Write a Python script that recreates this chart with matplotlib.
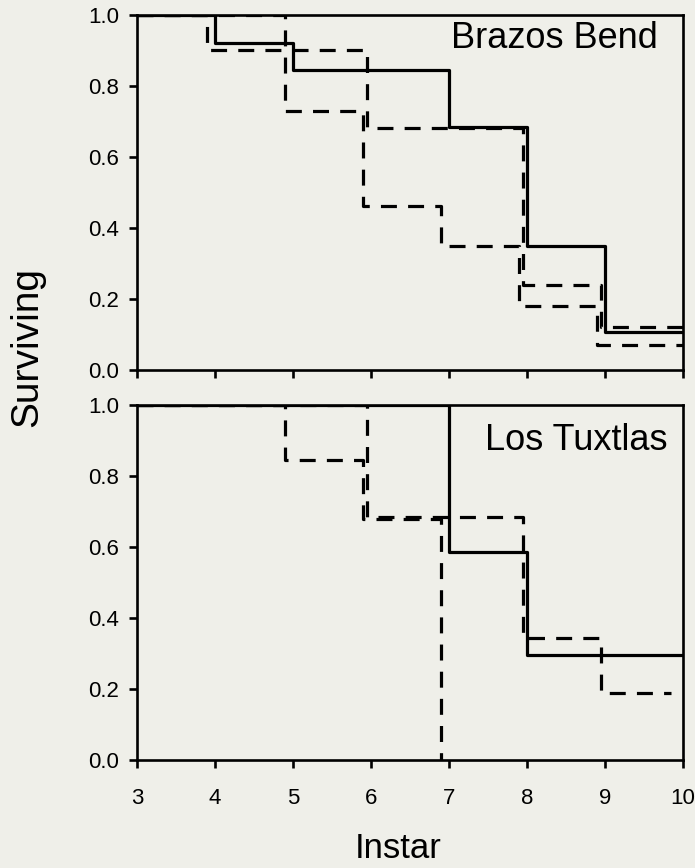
import matplotlib.pyplot as plt

plt.rcParams['font.family'] = ['Liberation Sans', 'DejaVu Sans']

# --- survival data (step curves, value holds until next instar) ---
xticks = [3, 4, 5, 6, 7, 8, 9, 10]
yticks = [0.0, 0.2, 0.4, 0.6, 0.8, 1.0]

# Brazos Bend
bb_solid_x = [3, 4.0, 5.0, 7.0, 8.0, 9.0, 10]
bb_solid_y = [1.0, 0.92, 0.845, 0.685, 0.35, 0.107, 0.107]
bb_dash1_x = [3, 3.9, 5.95, 7.95, 8.95, 10]
bb_dash1_y = [1.0, 0.90, 0.68, 0.24, 0.12, 0.12]
bb_dash2_x = [3, 4.9, 5.9, 6.9, 7.9, 8.9, 10]
bb_dash2_y = [1.0, 0.73, 0.46, 0.35, 0.18, 0.07, 0.07]

# Los Tuxtlas
lt_solid_x = [3, 7.0, 8.0, 10]
lt_solid_y = [1.0, 0.586, 0.296, 0.296]
lt_dash1_x = [3, 4.9, 5.9, 6.9]
lt_dash1_y = [1.0, 0.845, 0.68, 0.0]
lt_dash2_x = [3, 5.95, 7.95, 8.95, 9.85]
lt_dash2_y = [1.0, 0.685, 0.345, 0.19, 0.19]

bg = '#efefe9'
dash = (0, (5, 3.5))
fig = plt.figure(figsize=(6.95, 8.68), dpi=100, facecolor=bg)
ax1 = fig.add_axes([0.197, 0.574, 0.786, 0.409])
ax2 = fig.add_axes([0.197, 0.124, 0.786, 0.409])

panels = [
    (ax1, 'Brazos Bend', 0.954, 0.934,
     [(bb_solid_x, bb_solid_y, '-'), (bb_dash1_x, bb_dash1_y, dash),
      (bb_dash2_x, bb_dash2_y, dash)]),
    (ax2, 'Los Tuxtlas', 0.972, 0.90,
     [(lt_solid_x, lt_solid_y, '-'), (lt_dash1_x, lt_dash1_y, dash),
      (lt_dash2_x, lt_dash2_y, dash)]),
]

for ax, name, tx, ty, series in panels:
    ax.set_facecolor(bg)
    for xs, ys, ls in series:
        ax.step(xs, ys, where='post', color='black', lw=2.3, linestyle=ls)
    ax.set_xlim(3, 10)
    ax.set_ylim(0, 1)
    ax.set_xticks(xticks)
    ax.set_yticks(yticks)
    ax.set_yticklabels(['%.1f' % v for v in yticks])
    for sp in ax.spines.values():
        sp.set_linewidth(1.9)
    ax.tick_params(direction='out', length=6, width=1.9, labelsize=16)
    ax.tick_params(axis='x', pad=14)
    ax.tick_params(axis='y', pad=7)
    ax.text(tx, ty, name, transform=ax.transAxes, ha='right', va='center',
            fontsize=26)

ax1.tick_params(axis='x', labelbottom=False)
ax2.set_xticklabels([str(v) for v in xticks])

fig.text(0.039, 0.600, 'Surviving', rotation=90, ha='center', va='center', fontsize=28)
fig.text(0.573, 0.022, 'Instar', ha='center', va='center', fontsize=25)

fig.savefig('out.png', dpi=100, facecolor=bg)
